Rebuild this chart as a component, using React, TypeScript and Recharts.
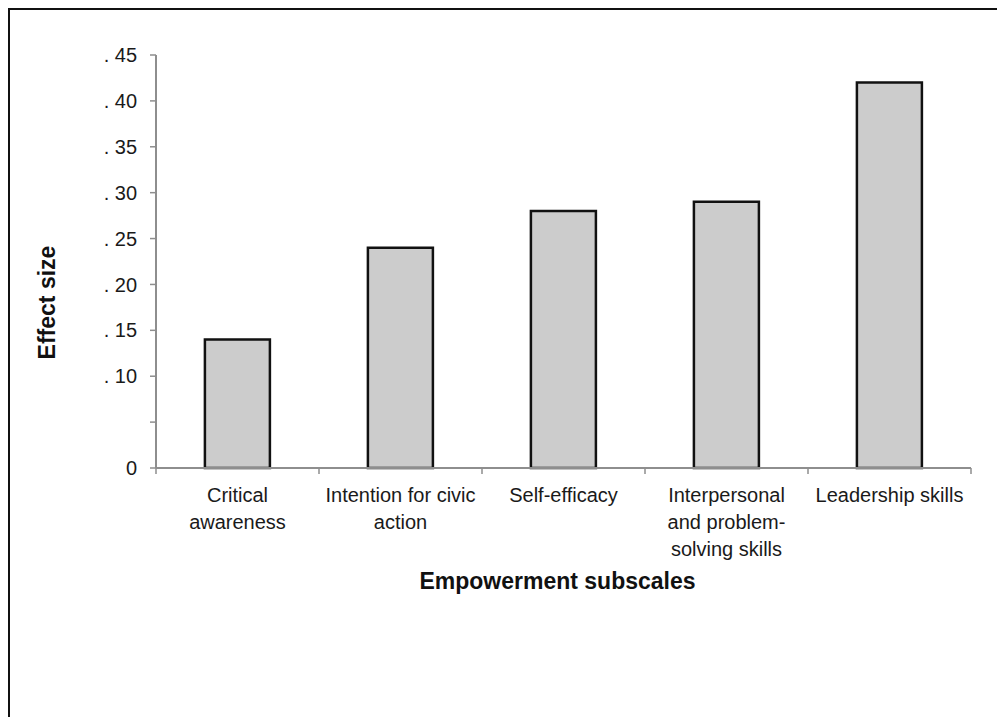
import React from 'react';
import { BarChart, Bar, XAxis, YAxis } from 'recharts';

const subscales = [
  'Critical awareness',
  'Intention for civic action',
  'Self-efficacy',
  'Interpersonal and problem-solving skills',
  'Leadership skills',
];
const subscaleLines = [
  ['Critical', 'awareness'],
  ['Intention for civic', 'action'],
  ['Self-efficacy'],
  ['Interpersonal', 'and problem-', 'solving skills'],
  ['Leadership skills'],
];
const effectSizes = [0.14, 0.24, 0.28, 0.29, 0.42];
const yTicks = [0, 0.05, 0.1, 0.15, 0.2, 0.25, 0.3, 0.35, 0.4, 0.45];

const data = subscales.map((name, i) => ({ name, effect: effectSizes[i] }));

const FONT = '"Liberation Sans", Arial, Helvetica, sans-serif';
const AXIS = '#8e8e8e';

function formatY(v: number) {
  if (v === 0) return '0';
  const n = Math.round(v * 100);
  if (n === 5) return '';
  return '. ' + n;
}

function CategoryTick(props: any) {
  const { x, y, payload, index } = props;
  const half = payload && payload.offset ? payload.offset : 81.5;
  const lines = subscaleLines[index] || [String(payload.value)];
  const last = index === subscales.length - 1;
  return (
    <g>
      <line x1={x - half} y1={y - 8} x2={x - half} y2={y - 2} stroke={AXIS} strokeWidth={1.5} />
      {last && (
        <line x1={x + half} y1={y - 8} x2={x + half} y2={y - 2} stroke={AXIS} strokeWidth={1.5} />
      )}
      <text x={x} y={y + 26} textAnchor="middle" fontFamily={FONT} fontSize={20} fill="#1a1a1a">
        {lines.map((l, i) => (
          <tspan key={i} x={x} dy={i === 0 ? 0 : 27}>
            {l}
          </tspan>
        ))}
      </text>
    </g>
  );
}

export default function App() {
  return (
    <div
      style={{
        width: 995,
        height: 707,
        borderTop: '2px solid #111',
        borderLeft: '2px solid #111',
        background: '#fff',
      }}
    >
      <BarChart
        width={990}
        height={700}
        data={data}
        margin={{ top: 45, right: 29, left: 0, bottom: 0 }}
        barCategoryGap="30%"
      >
        <XAxis
          dataKey="name"
          height={242}
          tickLine={false}
          axisLine={{ stroke: AXIS, strokeWidth: 2 }}
          interval={0}
          tick={<CategoryTick />}
          label={{
            content: (p: any) => {
              const vb = p.viewBox || { x: 146, y: 458, width: 815 };
              return (
                <text
                  x={vb.x + vb.width / 2 - 6}
                  y={vb.y + 121}
                  textAnchor="middle"
                  fontFamily={FONT}
                  fontWeight="bold"
                  fontSize={23}
                  fill="#111"
                >
                  Empowerment subscales
                </text>
              );
            },
          }}
        />
        <YAxis
          width={146}
          domain={[0, 0.45]}
          ticks={yTicks}
          interval={0}
          tickFormatter={formatY}
          tickSize={6}
          tickMargin={13}
          axisLine={{ stroke: AXIS, strokeWidth: 2 }}
          tickLine={{ stroke: AXIS, strokeWidth: 1.5 }}
          tick={{ fontFamily: FONT, fontSize: 20, fill: '#1a1a1a' }}
          label={{
            content: (p: any) => {
              const vb = p.viewBox || { x: 0, y: 45, width: 146, height: 413 };
              const cx = vb.x + 37;
              const cy = vb.y + vb.height / 2 + 41;
              return (
                <text
                  x={cx}
                  y={cy}
                  transform={`rotate(-90 ${cx} ${cy})`}
                  textAnchor="middle"
                  dominantBaseline="central"
                  fontFamily={FONT}
                  fontWeight="bold"
                  fontSize={23}
                  fill="#111"
                >
                  Effect size
                </text>
              );
            },
          }}
        />
        <Bar dataKey="effect" fill="#cccccc" stroke="#111" strokeWidth={2.5} isAnimationActive={false} />
      </BarChart>
    </div>
  );
}
